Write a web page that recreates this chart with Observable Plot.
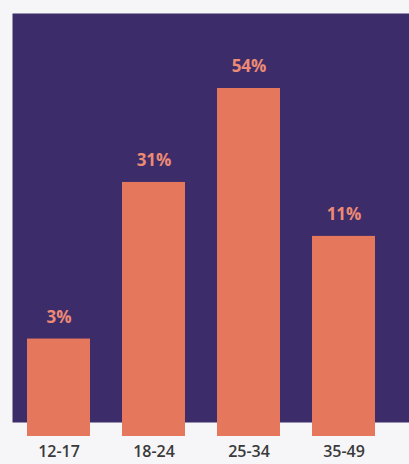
<!DOCTYPE html>
<html>
<head>
<meta charset="utf-8">
<script src="https://cdn.jsdelivr.net/npm/d3@7"></script>
<script src="https://cdn.jsdelivr.net/npm/@observablehq/plot@0.6"></script>
<style>
  html, body { margin: 0; padding: 0; background: #f6f6f8; }
  #chart svg { display: block; }
</style>
</head>
<body>
<div id="chart"></div>
<script>
// Age groups
const ageGroups = ["12-17", "18-24", "25-34", "35-49"];
// Share shown in the labels (%)
const shares = [3, 31, 54, 11];
// Drawn bar lengths as they appear in the picture (tallest = 100)
const barLength = [28, 73, 100, 57.5];

const data = ageGroups.map((g, i) => ({ group: g, share: shares[i], length: barLength[i] }));

const chart = Plot.plot({
  width: 409,
  height: 464,
  marginLeft: 27,
  marginRight: 34,
  marginTop: 88,
  marginBottom: 28,
  style: { background: "transparent", fontFamily: "'Open Sans', sans-serif" },
  x: { domain: ageGroups, paddingInner: 0.337, paddingOuter: 0, label: null },
  y: { domain: [0, 100], axis: null },
  marks: [
    Plot.frame({ fill: "#3c2d6a", stroke: null, insetLeft: -15, insetTop: -75, insetRight: -34, insetBottom: 14 }),
    Plot.barY(data, { x: "group", y: "length", fill: "#e4775c" }),
    Plot.text(data, {
      x: "group", y: "length", text: d => d.share + "%", dy: -22,
      fill: "#ec8a74", fontSize: 17, fontWeight: 700,
      style: "letter-spacing:1.5px"
    }),
    Plot.axisX({ tickSize: 0, tickPadding: 9, fontSize: 16, fontWeight: 600, color: "#3a3a3a", label: null })
  ]
});
document.getElementById("chart").append(chart);
</script>
</body>
</html>
